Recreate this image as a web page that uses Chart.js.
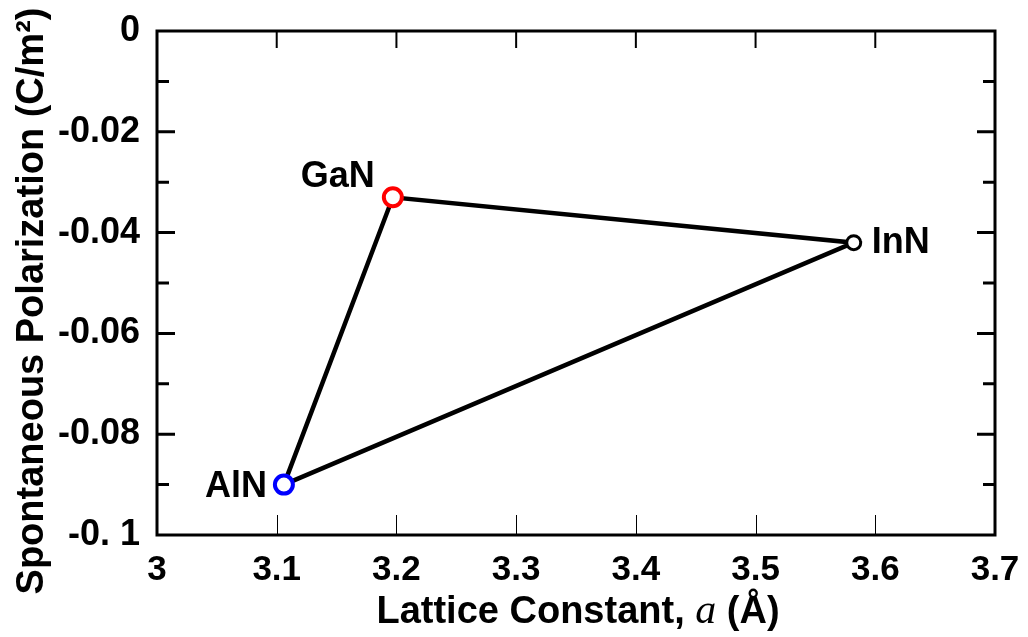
<!DOCTYPE html>
<html>
<head>
<meta charset="utf-8">
<script src="https://cdn.jsdelivr.net/npm/chart.js@4.4.0/dist/chart.umd.min.js"></script>
<style>
  html, body { margin: 0; padding: 0; background: #fff; }
</style>
</head>
<body>
<canvas id="myChart" width="1028" height="637"></canvas>
<script>
// values
const materials = ['AlN', 'GaN', 'InN'];
const latticeConstant = [3.106, 3.197, 3.582];
const spontaneousPolarization = [-0.090, -0.033, -0.042];
const triangleOrder = [0, 1, 2, 0];

const xTickValues = [3, 3.1, 3.2, 3.3, 3.4, 3.5, 3.6, 3.7];
const yTickValues = [0, -0.02, -0.04, -0.06, -0.08, -0.1];
const yTickLabels = ['0', '-0.02', '-0.04', '-0.06', '-0.08', '-0. 1'];
const yMinorValues = [-0.01, -0.03, -0.05, -0.07, -0.09];

const SANS = "'Liberation Sans', Arial, Helvetica, sans-serif";
const markerColors = { AlN: '#0000ff', GaN: '#ff0000', InN: '#000000' };
const markerSize = { AlN: 9, GaN: 9, InN: 7 };
const markerBorder = { AlN: 4, GaN: 4, InN: 3 };
// label placement relative to the marker
const labelPlace = {
  AlN: { dx: -17, dy: 12, align: 'right' },
  GaN: { dx: -18, dy: -10, align: 'right' },
  InN: { dx: 18, dy: 10, align: 'left' },
};

const ctx = document.getElementById('myChart').getContext('2d');

// frame + inward ticks on all four sides
const frameTicks = {
  id: 'frameTicks',
  beforeDatasetsDraw(chart) {
    const { ctx, chartArea: a, scales: { x, y } } = chart;
    ctx.save();
    ctx.strokeStyle = '#000';
    ctx.lineCap = 'butt';

    ctx.lineWidth = 3;
    yTickValues.slice(1, -1).forEach((v) => {
      const py = y.getPixelForValue(v);
      ctx.beginPath();
      ctx.moveTo(a.left, py); ctx.lineTo(a.left + 18, py);
      ctx.moveTo(a.right, py); ctx.lineTo(a.right - 18, py);
      ctx.stroke();
    });
    yMinorValues.forEach((v) => {
      const py = y.getPixelForValue(v);
      ctx.beginPath();
      ctx.moveTo(a.left, py); ctx.lineTo(a.left + 12, py);
      ctx.moveTo(a.right, py); ctx.lineTo(a.right - 12, py);
      ctx.stroke();
    });

    xTickValues.slice(1, -1).forEach((v) => {
      const px = x.getPixelForValue(v);
      ctx.lineWidth = 2;
      ctx.beginPath();
      ctx.moveTo(px, a.top); ctx.lineTo(px, a.top + 17);
      ctx.stroke();
      ctx.lineWidth = 1;
      ctx.beginPath();
      ctx.moveTo(Math.round(px) + 0.5, a.bottom); ctx.lineTo(Math.round(px) + 0.5, a.bottom - 20);
      ctx.stroke();
    });

    ctx.lineWidth = 3;
    ctx.strokeRect(a.left, a.top, a.right - a.left, a.bottom - a.top);
    ctx.restore();
  },
  afterDatasetsDraw(chart) {
    const { ctx } = chart;
    const meta = chart.getDatasetMeta(1);
    ctx.save();
    ctx.fillStyle = '#000';
    ctx.font = `bold 36px ${SANS}`;
    ctx.textBaseline = 'alphabetic';
    meta.data.forEach((pt, i) => {
      const p = labelPlace[materials[i]];
      ctx.textAlign = p.align;
      ctx.fillText(materials[i], pt.x + p.dx, pt.y + p.dy);
    });
    ctx.restore();
  },
  afterDraw(chart) {
    const { ctx } = chart;
    ctx.save();
    ctx.fillStyle = '#000';
    ctx.textBaseline = 'alphabetic';

    // y title
    ctx.save();
    ctx.translate(43, 301);
    ctx.rotate(-Math.PI / 2);
    ctx.font = `bold 38px ${SANS}`;
    ctx.textAlign = 'center';
    ctx.fillText('Spontaneous Polarization (C/m\u00b2)', 0, 0);
    ctx.restore();

    // x title, italic serif "a"
    const parts = [
      { t: 'Lattice Constant, ', f: `bold 38px ${SANS}` },
      { t: 'a', f: "italic 42px 'Liberation Serif', 'Times New Roman', serif" },
      { t: ' (\u00c5)', f: `bold 38px ${SANS}` },
    ];
    let total = 0;
    parts.forEach((p) => { ctx.font = p.f; p.w = ctx.measureText(p.t).width; total += p.w; });
    let cx = 578 - total / 2;
    ctx.textAlign = 'left';
    parts.forEach((p) => { ctx.font = p.f; ctx.fillText(p.t, cx, 623); cx += p.w; });
    ctx.restore();
  },
};

const myChart = new Chart(ctx, {
  type: 'scatter',
  data: {
    datasets: [
      {
        type: 'line',
        label: 'triangle',
        data: triangleOrder.map((i) => ({ x: latticeConstant[i], y: spontaneousPolarization[i] })),
        borderColor: '#000',
        borderWidth: 4.5,
        pointRadius: 0,
        fill: false,
        tension: 0,
        order: 2,
      },
      {
        label: 'materials',
        data: materials.map((m, i) => ({ x: latticeConstant[i], y: spontaneousPolarization[i] })),
        pointRadius: materials.map((m) => markerSize[m]),
        pointBorderWidth: materials.map((m) => markerBorder[m]),
        pointBorderColor: materials.map((m) => markerColors[m]),
        pointBackgroundColor: '#fff',
        order: 1,
      },
    ],
  },
  options: {
    responsive: false,
    animation: false,
    devicePixelRatio: 1,
    layout: { padding: { top: 31, right: 33, left: 0, bottom: 0 } },
    plugins: {
      legend: { display: false },
      tooltip: { enabled: false },
    },
    scales: {
      x: {
        type: 'linear',
        min: 3,
        max: 3.7,
        afterFit: (scale) => {
          scale.height = 102;
          scale.paddingLeft = 0; scale.paddingRight = 0;
        },
        afterBuildTicks: (scale) => { scale.ticks = xTickValues.map((v) => ({ value: v })); },
        grid: { display: false, drawTicks: false },
        border: { display: false },
        ticks: {
          autoSkip: false,
          maxRotation: 0,
          padding: 14,
          color: '#000',
          font: { family: SANS, size: 35, weight: 'bold' },
          callback: (v) => String(Number(v.toFixed(1))),
        },
      },
      y: {
        type: 'linear',
        min: -0.1,
        max: 0,
        afterFit: (scale) => {
          scale.width = 157;
          scale.paddingTop = 0; scale.paddingBottom = 0;
        },
        afterBuildTicks: (scale) => { scale.ticks = yTickValues.map((v) => ({ value: v })); },
        grid: { display: false, drawTicks: false },
        border: { display: false },
        ticks: {
          autoSkip: false,
          padding: 17,
          color: '#000',
          font: { family: SANS, size: 36, weight: 'bold' },
          callback: (v) => {
            const i = yTickValues.findIndex((t) => Math.abs(t - v) < 1e-9);
            return i >= 0 ? yTickLabels[i] : '';
          },
        },
      },
    },
  },
  plugins: [frameTicks],
});
</script>
</body>
</html>
